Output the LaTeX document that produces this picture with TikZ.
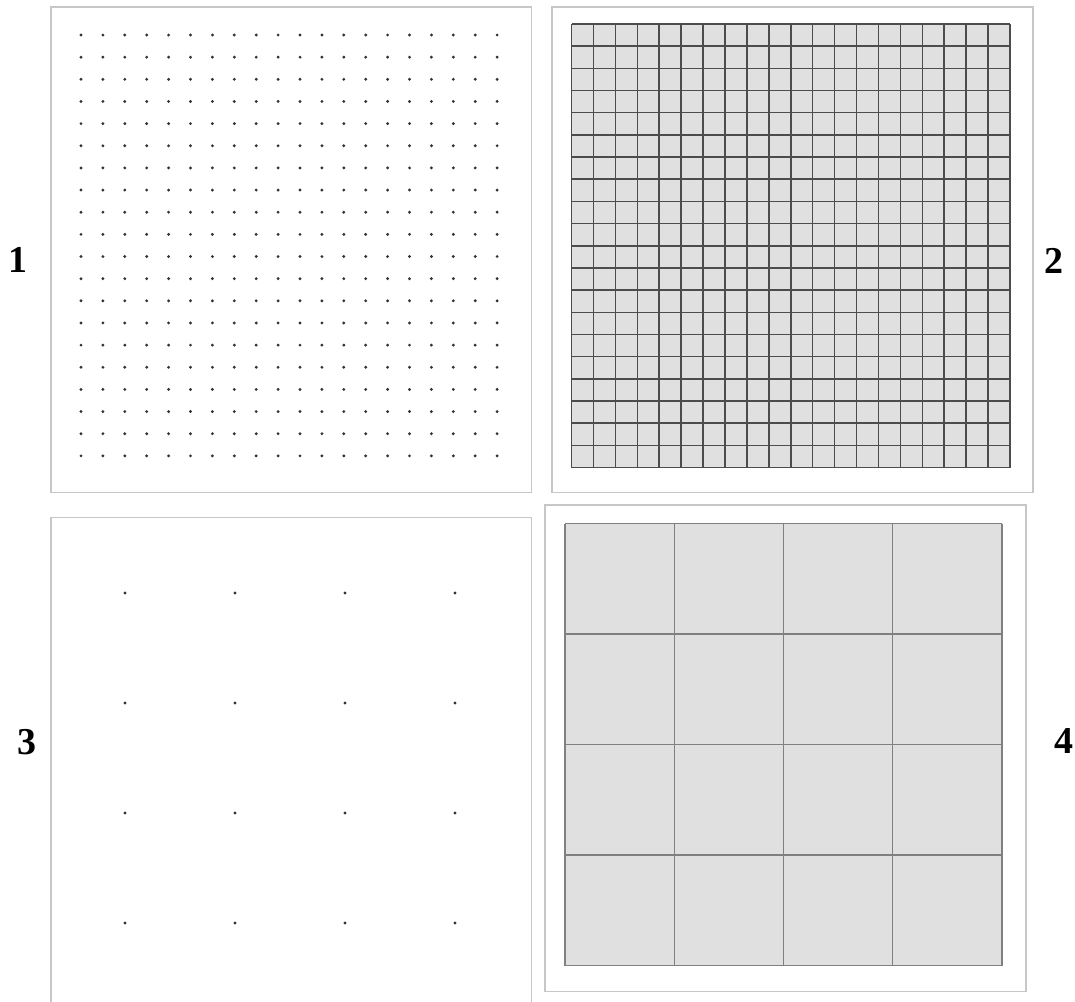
\documentclass[tikz,border=0pt]{standalone}
\usepackage{fontspec}
\setmainfont{Liberation Serif}

\begin{document}
\begin{tikzpicture}[x=0.025cm,y=-0.025cm,
  panel/.style={draw=black!22,line width=0.9pt},
  griddot/.style={fill=black!80},
  cellfill/.style={fill=black!12},
  fineline/.style={draw=black!70,line width=1.1pt},
  coarseline/.style={draw=black!50,line width=0.8pt},
  tag/.style={font=\bfseries\fontsize{27}{27}\selectfont,inner sep=0pt}]
\useasboundingbox (0,0) rectangle (1075,1001);

% panel frames
\draw[panel] (51,7) rectangle (531.5,492.5);
\draw[panel] (552,7) rectangle (1033,492.5);
\draw[panel] (51,517.5) rectangle (531.5,1004);
\draw[panel] (545,505) rectangle (1026,991.5);

% 1: fine dot grid
\foreach \i in {0,...,19}
  \foreach \j in {0,...,19}
    \fill[griddot] ({81+21.9*\i},{35+22.15*\j}) circle[radius=1.6];

% 2: fine cell grid
\fill[cellfill] (571.5,24) rectangle (1010,467.5);
\foreach \i in {0,...,20}
  \draw[fineline] ({571.5+21.925*\i},24) -- ({571.5+21.925*\i},467.5);
\foreach \j in {0,...,20}
  \draw[fineline] (571.5,{24+22.175*\j}) -- (1010,{24+22.175*\j});

% 3: coarse dot grid
\foreach \i in {0,...,3}
  \foreach \j in {0,...,3}
    \fill[griddot] ({125+110*\i},{593+110*\j}) circle[radius=1.6];

% 4: coarse cell grid
\fill[cellfill] (565,523.5) rectangle (1002,965.5);
\foreach \i in {0,...,4}
  \draw[coarseline] ({565+109.25*\i},523.5) -- ({565+109.25*\i},965.5);
\foreach \j in {0,...,4}
  \draw[coarseline] (565,{523.5+110.5*\j}) -- (1002,{523.5+110.5*\j});

% labels
\node[tag] (t1) at (17.5,259.5) {1};
\node[tag] (t2) at (1054,260.5) {2};
\node[tag] (t3) at (27,742.5) {3};
\node[tag] (t4) at (1063.5,741) {4};
\end{tikzpicture}
\end{document}
